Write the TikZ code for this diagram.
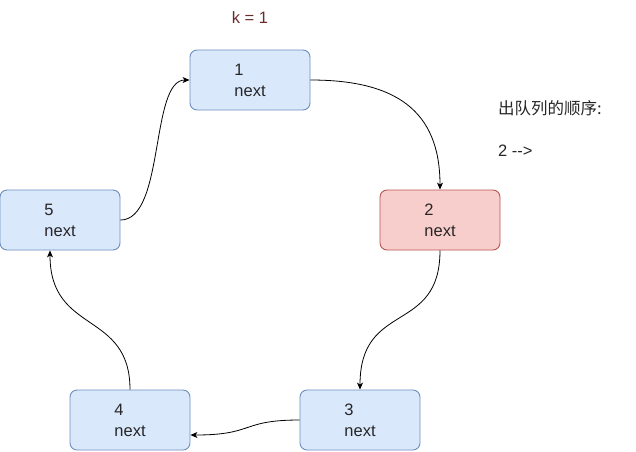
\documentclass[tikz,border=0pt]{standalone}
\usepackage{fontspec}
\setmainfont{Liberation Sans}
\newfontfamily\cjk{Noto Sans CJK SC}
\usetikzlibrary{arrows.meta}
\definecolor{bluefill}{HTML}{DAE8FC}
\definecolor{bluedraw}{HTML}{6C8EBF}
\definecolor{redfill}{HTML}{F8CECC}
\definecolor{reddraw}{HTML}{B85450}
\definecolor{ktext}{HTML}{6B2B2B}
\tikzset{
  listnode/.style={draw=bluedraw, fill=bluefill, line width=0.9pt, rounded corners=7pt, minimum width=120pt, minimum height=60pt, inner sep=0pt, align=left, font=\fontsize{16.5pt}{21pt}\selectfont, text=black!85},
  rednode/.style={listnode, draw=reddraw, fill=redfill},
  link/.style={draw=black, line width=0.8pt, -{Stealth[length=7pt,width=6pt,inset=2pt]}},
  plain/.style={font=\fontsize{16.5pt}{20pt}\selectfont, inner sep=0pt, anchor=west}
}
\begin{document}
\begin{tikzpicture}[x=1pt,y=-1pt]
\useasboundingbox (0,0) rectangle (636,451);
\node[listnode] (n1) at (250,80) {1\\next};
\node[rednode] (n2) at (440,220) {2\\next};
\node[listnode] (n3) at (360,420) {3\\next};
\node[listnode] (n4) at (130,420) {4\\next};
\node[listnode] (n5) at (60,220) {5\\next};
\node[plain, anchor=center, text=ktext] (k) at (250,18) {k = 1};
\node[plain, text=black!85] (order) at (498,108) {\cjk 出队列的顺序:};
\node[plain, text=black!85] (seq) at (498,151) {2 {-}{-}>};
\draw[link] (n1.east) .. controls (395,80) and (440,110) .. (n2.north);
\draw[link] (n2.south) .. controls (440,335) and (360,300) .. (n3.north);
\draw[link] (n3.west) .. controls (240,420) and (255,435) .. ([yshift=-15pt]n4.east);
\draw[link] (n4.north) .. controls (130,310) and (50,335) .. ([xshift=-10pt]n5.south);
\draw[link] (n5.east) .. controls (165,220) and (150,80) .. (n1.west);
\end{tikzpicture}
\end{document}
